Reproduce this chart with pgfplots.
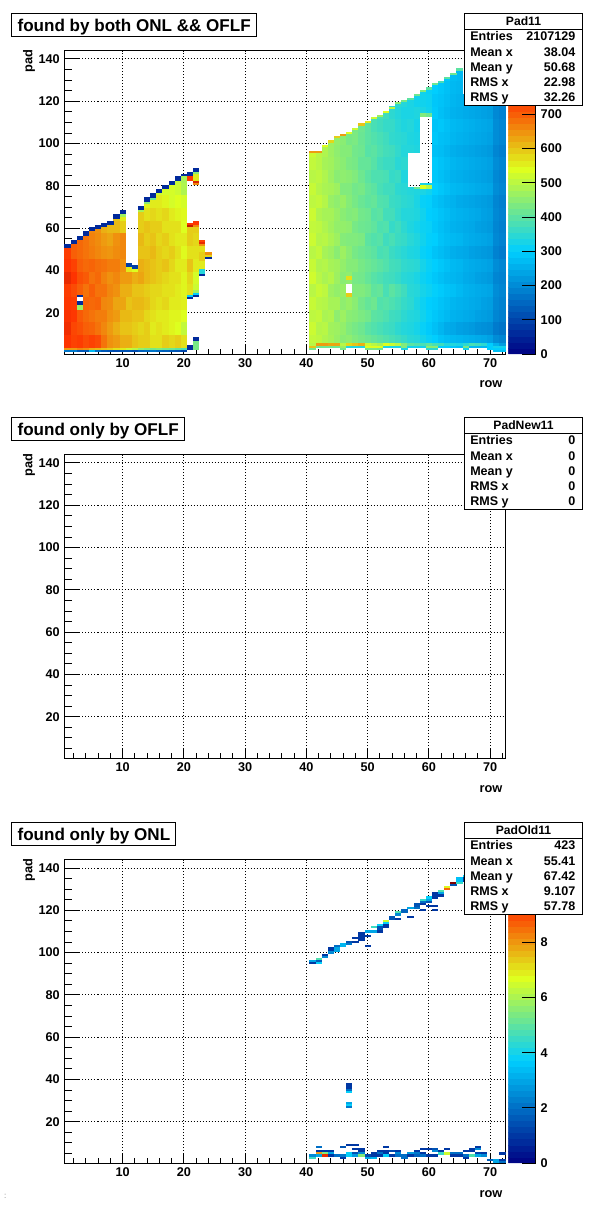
\documentclass[border=0pt]{standalone}
\usepackage{fontspec}
\setmainfont{Liberation Sans}
\usepackage{pgfplots}
\usepackage{pgfplotstable}
\pgfplotsset{compat=1.18}

% ROOT palette 1 stops
\pgfplotsset{colormap={rootpal}{rgb(0pt)=(0,0,.51); rgb(34pt)=(0,.81,1); rgb(61pt)=(.87,1,.12); rgb(84pt)=(1,.2,0); rgb(100pt)=(.51,0,0)}}

% one bin = 441/72 px wide, one pad = 303/143.5 px high (1px = 0.75pt)
\pgfdeclareplotmark{cellb}{\pgfpathrectangle{\pgfpoint{-2.35pt}{-0.79pt}}{\pgfpoint{4.7pt}{9.6pt}}\pgfusepathqfill}
\pgfdeclareplotmark{celle}{\pgfpathrectangle{\pgfpoint{-2.32pt}{-0.79pt}}{\pgfpoint{4.64pt}{\cellh*1.5836pt+0.05pt}}\pgfusepathqfill}

\newcommand\tickf{\fontsize{9.5}{11}\selectfont\bfseries}

\pgfplotsset{
  padaxis/.style={
    scale only axis, width=330.75pt, height=227.6pt, anchor=south west,
    xmin=0.5, xmax=72.5, ymin=0.5, ymax=144,
    xtick={0,10,...,80}, ytick={0,20,...,160},
    minor x tick num=4, minor y tick num=3,
    tick pos=left, tick align=inside, axis on top,
    grid=major,
    grid style={black, line width=0.75pt, dash pattern=on 0.75pt off 1.5pt},
    axis line style={black, line width=0.75pt},
    tick style={black, line width=0.75pt},
    x tick style={/pgfplots/major tick length=7.5pt, /pgfplots/minor tick length=3.75pt},
    y tick style={/pgfplots/major tick length=11.5pt, /pgfplots/minor tick length=5.75pt},
    ticklabel style={font=\tickf},
    /pgf/number format/assume math mode=true,
    colormap name=rootpal,
  },
  padbar/.style={
    colorbar, colorbar sampled,
    colorbar shift/.style={xshift=1.8pt},
    colorbar style={
      samples=51, width=20.7pt,
      axis y line*=right, axis x line=none,
      tick align=inside, major tick length=10.5pt,
      tick style={black, line width=0.75pt},
      axis line style={black, line width=0.75pt},
      ticklabel style={font=\tickf},
      /pgf/number format/assume math mode=true,
      ytick={#1},
    },
  },
  padcells/.style={only marks, scatter, mark=#1, point meta=\thisrow{v}},
}

% interior blocks, six pads high, starting half a pad below p
\pgfplotstableread{
r p v
1 4 745
1 10 760
1 16 750
1 22 740
1 28 735
1 34 770
1 40 745
2 4 730
2 10 725
2 16 740
2 22 735
2 28 720
2 34 745
2 40 730
2 46 700
3 4 735
3 10 715
3 16 705
3 28 700
3 34 715
3 40 700
3 46 690
4 4 720
4 10 700
4 16 690
4 22 695
4 28 680
4 34 705
4 40 690
4 46 680
5 4 730
5 10 695
5 16 680
5 22 690
5 28 700
5 34 680
5 40 695
5 46 670
5 52 665
6 4 720
6 10 680
6 16 670
6 22 695
6 28 680
6 34 690
6 40 685
6 46 660
6 52 655
7 4 680
7 10 660
7 16 670
7 22 660
7 28 680
7 34 665
7 40 680
7 46 650
7 52 640
8 4 650
8 10 640
8 16 650
8 22 655
8 28 660
8 34 650
8 40 670
8 46 645
8 52 630
9 4 640
9 10 620
9 16 640
9 22 630
9 28 650
9 34 660
9 40 670
9 46 655
9 52 650
9 58 610
10 4 620
10 10 600
10 16 610
10 22 630
10 28 620
10 34 640
10 40 650
10 46 660
10 52 660
10 58 590
11 4 620
11 10 600
11 16 610
11 22 600
11 28 620
11 34 640
12 4 600
12 10 590
12 16 600
12 22 610
12 28 600
12 34 620
13 4 590
13 10 580
13 16 600
13 22 610
13 28 600
13 34 630
13 40 620
13 46 600
13 52 610
13 58 590
14 4 590
14 10 590
14 16 580
14 22 600
14 28 590
14 34 610
14 40 610
14 46 600
14 52 590
14 58 600
14 64 570
15 4 570
15 10 560
15 16 570
15 22 580
15 28 580
15 34 600
15 40 600
15 46 610
15 52 600
15 58 590
15 64 580
16 4 570
16 10 570
16 16 560
16 22 570
16 28 580
16 34 590
16 40 590
16 46 590
16 52 580
16 58 590
16 64 570
16 70 560
17 4 590
17 10 560
17 16 560
17 22 580
17 28 570
17 34 580
17 40 600
17 46 580
17 52 590
17 58 570
17 64 580
17 70 550
18 4 580
18 10 550
18 16 550
18 22 560
18 28 570
18 34 570
18 40 580
18 46 590
18 52 570
18 58 570
18 64 560
18 70 530
19 4 590
19 10 540
19 16 550
19 22 560
19 28 560
19 34 570
19 40 560
19 46 570
19 52 560
19 58 570
19 64 550
19 70 540
19 76 520
20 4 570
20 10 510
20 16 540
20 22 555
20 28 550
20 34 550
20 40 560
20 46 545
20 52 560
20 58 540
20 64 545
20 70 530
20 76 490
21 28 570
21 34 580
21 40 600
21 46 570
21 52 590
22 28 520
22 34 530
22 40 560
22 46 570
22 52 580
41 4 510
41 10 520
41 16 505
41 22 515
41 28 500
41 34 525
41 40 515
41 46 500
41 52 520
41 58 510
41 64 520
41 70 505
41 76 515
41 82 500
41 88 510
42 4 505
42 10 495
42 16 510
42 22 500
42 28 515
42 34 500
42 40 490
42 46 510
42 52 495
42 58 505
42 64 490
42 70 510
42 76 495
42 82 505
42 88 500
43 4 490
43 10 500
43 16 485
43 22 495
43 28 505
43 34 485
43 40 495
43 46 480
43 52 500
43 58 490
43 64 480
43 70 495
43 76 485
43 82 490
43 88 480
43 94 490
44 4 480
44 10 475
44 16 490
44 22 480
44 28 470
44 34 495
44 40 480
44 46 470
44 52 485
44 58 475
44 64 480
44 70 465
44 76 480
44 82 470
44 88 475
44 94 470
45 4 465
45 10 470
45 16 455
45 22 480
45 28 460
45 34 470
45 40 475
45 46 450
45 52 470
45 58 460
45 64 465
45 70 455
45 76 470
45 82 450
45 88 460
45 94 455
46 4 450
46 10 460
46 16 470
46 22 455
46 28 465
46 34 450
46 40 460
46 46 470
46 52 445
46 58 460
46 64 450
46 70 465
46 76 440
46 82 455
46 88 450
46 94 445
47 4 455
47 10 440
47 16 450
47 22 465
47 34 455
47 40 445
47 46 450
47 52 440
47 58 455
47 64 440
47 70 445
47 76 440
47 82 450
47 88 435
47 94 445
47 100 430
48 4 440
48 10 430
48 16 445
48 22 450
48 28 440
48 34 430
48 40 445
48 46 430
48 52 440
48 58 430
48 64 445
48 70 430
48 76 425
48 82 440
48 88 430
48 94 425
48 100 435
49 4 430
49 10 420
49 16 435
49 22 425
49 28 440
49 34 425
49 40 430
49 46 420
49 52 435
49 58 420
49 64 425
49 70 415
49 76 430
49 82 420
49 88 410
49 94 420
49 100 415
50 4 420
50 10 400
50 16 425
50 22 410
50 28 430
50 34 410
50 40 420
50 46 410
50 52 400
50 58 415
50 64 420
50 70 405
50 76 410
50 82 400
50 88 410
50 94 395
50 100 400
51 4 410
51 10 390
51 16 400
51 22 420
51 28 405
51 34 395
51 40 410
51 46 400
51 52 390
51 58 405
51 64 395
51 70 410
51 76 400
51 82 385
51 88 395
51 94 400
51 100 390
51 106 380
52 4 400
52 10 380
52 16 395
52 22 390
52 28 410
52 34 385
52 40 400
52 46 380
52 52 395
52 58 385
52 64 400
52 70 390
52 76 380
52 82 385
52 88 375
52 94 385
52 100 380
52 106 370
53 4 390
53 10 370
53 16 385
53 22 395
53 28 380
53 34 375
53 40 390
53 46 385
53 52 370
53 58 390
53 64 375
53 70 385
53 76 370
53 82 380
53 88 365
53 94 375
53 100 370
53 106 360
54 4 380
54 10 365
54 16 370
54 22 385
54 28 400
54 34 370
54 40 375
54 46 365
54 52 380
54 58 360
54 64 375
54 70 365
54 76 370
54 82 360
54 88 365
54 94 370
54 100 355
54 106 360
54 112 350
55 4 370
55 10 350
55 16 365
55 22 375
55 28 385
55 34 360
55 40 370
55 46 355
55 52 365
55 58 370
55 64 355
55 70 360
55 76 350
55 82 365
55 88 345
55 94 355
55 100 350
55 106 345
55 112 340
56 4 360
56 10 340
56 16 350
56 22 360
56 28 370
56 34 345
56 40 355
56 46 345
56 52 360
56 58 350
56 64 340
56 70 350
56 76 345
56 82 335
56 88 350
56 94 340
56 100 345
56 106 335
56 112 330
57 4 345
57 10 335
57 16 340
57 22 350
57 28 345
57 34 340
57 40 350
57 46 335
57 52 345
57 58 335
57 64 340
57 70 345
57 100 335
57 106 340
57 112 330
58 4 340
58 10 325
58 16 335
58 22 330
58 28 340
58 34 330
58 40 345
58 46 330
58 52 335
58 58 325
58 64 335
58 70 330
58 100 330
58 106 325
58 112 335
58 118 320
59 4 325
59 10 310
59 16 320
59 22 315
59 28 325
59 34 315
59 40 325
59 46 310
59 52 320
59 58 315
59 64 320
59 70 310
59 76 330
59 118 320
60 4 310
60 10 295
60 16 305
60 22 300
60 28 315
60 34 305
60 40 310
60 46 300
60 52 305
60 58 310
60 64 300
60 70 305
60 76 320
60 118 315
61 4 300
61 10 280
61 16 290
61 22 295
61 28 305
61 34 290
61 40 300
61 46 285
61 52 300
61 58 290
61 64 295
61 70 285
61 76 300
61 82 290
61 88 295
61 94 280
61 100 290
61 106 285
61 112 295
61 118 290
62 4 285
62 10 265
62 16 280
62 22 285
62 28 295
62 34 280
62 40 290
62 46 275
62 52 285
62 58 280
62 64 285
62 70 275
62 76 290
62 82 280
62 88 285
62 94 275
62 100 280
62 106 290
62 112 280
62 118 285
62 124 290
63 4 275
63 10 250
63 16 270
63 22 275
63 28 285
63 34 270
63 40 280
63 46 265
63 52 275
63 58 270
63 64 275
63 70 265
63 76 280
63 82 270
63 88 275
63 94 265
63 100 275
63 106 280
63 112 270
63 118 275
63 124 280
64 4 270
64 10 245
64 16 260
64 22 265
64 28 280
64 34 265
64 40 270
64 46 255
64 52 270
64 58 260
64 64 265
64 70 260
64 76 270
64 82 260
64 88 265
64 94 255
64 100 265
64 106 270
64 112 260
64 118 265
64 124 270
65 4 265
65 10 235
65 16 255
65 22 260
65 28 270
65 34 260
65 40 265
65 46 250
65 52 265
65 58 255
65 64 260
65 70 250
65 76 265
65 82 255
65 88 260
65 94 250
65 100 260
65 106 265
65 112 255
65 118 260
65 124 265
65 130 270
66 4 260
66 10 230
66 16 250
66 22 255
66 28 260
66 34 250
66 40 255
66 46 245
66 52 255
66 58 250
66 64 255
66 70 245
66 76 260
66 82 250
66 88 255
66 94 245
66 100 255
66 106 260
66 112 250
66 118 255
67 4 255
67 10 225
67 16 245
67 22 250
67 28 255
67 34 245
67 40 250
67 46 235
67 52 250
67 58 245
67 64 250
67 70 240
67 76 255
67 82 245
67 88 250
67 94 240
67 100 250
67 106 255
67 112 245
67 118 250
68 4 250
68 10 215
68 16 235
68 22 245
68 28 250
68 34 235
68 40 245
68 46 230
68 52 245
68 58 235
68 64 245
68 70 235
68 76 250
68 82 240
68 88 245
68 94 235
68 100 245
68 106 250
68 112 240
68 118 245
69 4 245
69 10 210
69 16 230
69 22 235
69 28 245
69 34 230
69 40 240
69 46 225
69 52 240
69 58 230
69 64 235
69 70 230
69 76 245
69 82 235
69 88 240
69 94 230
69 100 240
69 106 245
69 112 235
69 118 240
70 4 235
70 10 205
70 16 225
70 22 230
70 28 240
70 34 225
70 40 235
70 46 220
70 52 235
70 58 225
70 64 230
70 70 225
70 76 240
70 82 230
70 88 235
70 94 225
70 100 235
70 106 240
70 112 230
70 118 235
71 4 205
71 10 180
71 16 195
71 22 200
71 28 205
71 34 195
71 40 205
71 46 190
71 52 200
71 58 195
71 64 200
71 70 195
71 76 205
71 82 200
71 88 205
71 94 195
71 100 205
71 106 205
71 112 200
71 118 205
72 4 195
72 10 170
72 16 185
72 22 190
72 28 195
72 34 190
72 40 195
72 46 180
72 52 190
72 58 185
72 64 190
72 70 185
72 76 195
72 82 190
72 88 195
72 94 185
72 100 195
72 106 195
72 112 190
72 118 195
}\padblocks

% irregular cells: tops, edges, holes and the low-pad strip, h pads high
\pgfplotstableread{
r p h v
1 46 5 735
1 51 2 60
2 52 1 700
2 53 2 60
3 52 3 690
3 55 2 60
4 52 5 680
4 57 2 60
5 58 1 660
5 59 2 60
6 58 2 650
6 60 2 60
7 58 3 620
7 61 2 60
8 58 4 610
8 62 2 60
9 64 1 600
9 65 2 60
10 64 2 560
10 66 1 470
10 67 2 60
11 40 2 560
11 42 2 90
12 40 1 540
12 41 2 90
13 64 4 590
13 68 1 480
13 69 2 60
14 70 2 550
14 72 1 450
14 73 2 60
15 70 4 560
15 74 1 420
15 75 2 60
16 76 1 520
16 77 2 60
17 76 3 530
17 79 2 60
18 76 5 530
18 81 2 60
19 82 1 510
19 83 2 60
20 82 3 480
20 85 1 60
3 22 2 470
3 24 2 60
3 28 1 60
21 27 1 60
21 28 1 300
21 58 3 590
21 61 1 810
21 62 1 740
21 83 2 740
21 85 2 60
21 3 2 60
22 28 1 60
22 29 1 300
22 30 1 470
22 58 3 590
22 61 1 660
22 62 2 740
22 81 1 660
22 82 1 790
22 83 3 560
22 86 1 450
22 87 2 60
22 3 4 430
22 7 2 60
23 38 1 60
23 39 2 340
23 41 4 560
23 45 4 590
23 49 3 570
23 52 1 650
23 53 1 770
23 54 1 730
24 46 1 60
24 47 1 580
24 48 1 650
1 2 1 170
2 2 1 180
3 2 1 130
4 2 1 130
5 2 1 270
6 2 1 160
7 2 1 130
8 2 1 120
9 2 1 110
10 2 1 120
11 2 1 120
12 2 1 110
13 2 1 140
14 2 1 150
15 2 1 170
16 2 1 150
17 2 1 140
18 2 1 130
19 2 1 120
20 2 1 100
1 3 1 640
2 3 1 640
3 3 1 660
4 3 1 650
5 3 1 620
6 3 1 610
7 3 1 600
8 3 1 590
9 3 1 570
10 3 1 560
11 3 1 520
12 3 1 500
13 3 1 460
14 3 1 440
15 3 1 430
16 3 1 440
17 3 1 430
18 3 1 420
19 3 1 400
20 3 1 380
41 94 2 520
41 96 1 640
42 94 2 500
42 96 1 640
43 99 1 540
44 100 1 470
44 101 1 580
45 100 3 460
45 103 1 590
46 100 4 450
46 104 1 640
47 105 1 540
48 106 1 430
48 107 1 520
49 106 3 420
49 109 1 600
50 106 4 400
50 110 1 560
51 112 1 520
52 112 1 380
52 113 1 470
53 112 3 370
53 115 1 540
54 117 1 500
55 118 1 350
55 119 1 450
56 118 2 340
56 120 1 430
57 118 3 330
57 121 1 400
58 123 1 420
59 124 1 320
59 125 1 440
60 124 2 310
60 126 1 400
61 124 4 300
61 128 1 420
62 129 1 380
63 130 1 290
63 131 1 400
64 130 3 275
64 133 1 420
65 135 1 400
47 28 2 590
47 36 2 570
57 76 4 340
57 96 4 340
58 76 3 335
58 79 1 420
58 96 4 335
59 79 2 540
59 113 5 330
59 113 2 440
60 79 2 500
60 113 5 320
60 113 2 420
41 3 1 430
46 3 1 430
50 3 1 430
51 3 1 430
52 3 1 420
56 3 1 330
60 3 1 350
61 3 1 350
66 3 1 320
70 3 1 300
71 3 1 300
72 3 1 300
71 2 1 280
72 2 1 280
41 4 1 600
42 4 1 420
43 4 1 420
44 4 1 420
45 4 1 420
46 4 1 470
47 4 1 340
48 4 1 340
49 4 1 340
50 4 1 540
51 4 1 540
52 4 1 540
53 4 1 330
54 4 1 330
55 4 1 330
56 4 1 440
57 4 1 320
58 4 1 320
59 4 1 320
60 4 1 450
61 4 1 450
62 4 1 300
63 4 1 300
64 4 1 290
65 4 1 280
66 4 1 430
67 4 1 270
68 4 1 270
69 4 1 270
70 4 1 300
71 4 1 320
72 4 1 320
41 5 1 500
42 5 1 640
43 5 1 640
44 5 1 630
45 5 1 630
46 5 1 500
47 5 1 580
48 5 1 600
49 5 1 620
50 5 1 520
51 5 1 500
52 5 1 480
53 5 1 540
54 5 1 520
55 5 1 500
56 5 1 440
57 5 1 400
58 5 1 390
59 5 1 380
60 5 1 400
61 5 1 380
62 5 1 370
63 5 1 340
64 5 1 340
65 5 1 330
66 5 1 350
67 5 1 380
68 5 1 370
69 5 1 350
70 5 1 300
71 5 1 260
72 5 1 230
}\padedges

% third panel, found only by ONL
\pgfplotstableread{
r p h v
41 96 1 3
41 95 1 1
42 97 1 4.8
42 96 1 1.7
42 95 1 3.8
43 99 1 1
43 98 1 2.5
44 101 2 1
44 100 1 2.5
45 103 1 2
45 101 2 3
46 103 2 3.3
47 105 1 1.5
47 104 1 2.2
48 107 1 1
48 105 1 1
49 106 4 1
50 110 1 3
50 108 1 1
50 103 1 1
51 112 1 4.5
51 110 1 3
52 113 1 3.8
52 111 2 1.5
52 110 1 1
53 115 1 6.5
53 114 1 3.8
53 112 2 1
54 116 2 1.5
55 119 1 4.8
55 118 1 2.5
55 116 1 1
56 119 2 1.8
57 121 1 3
57 117 1 1
58 122 2 1.5
58 121 1 2
59 125 1 4.5
59 124 1 2
59 123 1 1
59 120 1 1
60 126 1 3.8
60 125 1 3
60 124 1 1.5
60 122 1 1
61 126 3 1
61 122 1 1
61 120 1 1
62 129 1 4.8
62 128 1 3
62 127 1 1
63 131 1 6.8
63 130 1 8.6
64 133 1 11
64 132 1 1.5
65 134 2 3.5
65 133 1 4.5
66 136 1 3.8
66 134 2 1
47 36 3 1
47 35 1 2
47 34 1 3.8
47 29 1 3
47 28 1 3.8
47 27 1 2.2
41 3 1 4.5
41 4 1 2.5
42 8 1 2
42 6 1 1
42 5 1 8
42 4 1 3
43 6 1 1
43 5 1 5.5
43 4 1 9.5
44 6 1 1
44 5 1 3
44 4 1 1
45 4 1 2
46 8 1 1.5
46 4 1 2.2
46 3 1 1
47 9 1 1
47 5 1 3.8
47 4 1 3.8
48 9 1 1
48 7 1 1
48 5 1 1.5
48 4 1 2.8
49 7 1 1
49 6 1 1
49 5 1 2.5
49 4 1 5.5
50 4 1 1.3
50 3 1 3
51 5 1 1
51 4 1 1
51 3 1 3.3
52 6 1 1
52 5 1 2
52 4 1 1
53 8 1 1
53 6 1 1
53 5 1 1
53 4 1 3.8
54 6 1 1.3
54 4 1 1
55 6 1 1
55 5 1 2.5
55 4 1 2
56 4 1 2
56 3 1 2
57 5 1 2.8
57 4 1 1
58 6 1 1
58 5 1 2.2
58 4 1 1.8
59 7 1 1
59 5 1 1
59 4 1 2
60 7 1 1
60 4 1 1
61 7 1 1.5
61 6 1 2.5
61 4 1 1
62 6 1 1
62 5 1 4.5
63 7 1 1
63 5 1 6.5
64 5 1 2
64 4 1 1
65 5 1 2
65 4 1 1
66 6 1 1
66 4 1 2
66 3 1 1
67 7 1 1
67 6 1 1
67 4 1 4.8
68 8 1 1
68 7 1 2.5
68 5 1 1.2
68 4 1 3
69 5 1 1
69 4 1 2.5
70 2 1 1.7
71 2 1 3
71 1 1 3
72 5 1 1
72 2 1 1
72 1 1 2
}\padold

% title box and statistics box, y0 = top of the panel's boxes
\newcommand\titlebox[3]{%
  \filldraw[fill=white, draw=black, line width=0.75pt] (11.5,#1) rectangle (#2,#1+23);
  \node[anchor=base west, inner sep=0pt] at (17.3,#1+18) {\fontsize{12.8}{15}\selectfont\bfseries #3};}
\newcommand\statline[3]{%
  \node[anchor=base west, inner sep=0pt] at (470,#1) {\fontsize{9.4}{11}\selectfont\bfseries #2};
  \node[anchor=base east, inner sep=0pt] at (575.5,#1) {\fontsize{9.4}{11}\selectfont\bfseries #3};}
\newcommand\statbox[7]{%
  \filldraw[fill=white, draw=black, line width=0.75pt] (464.5,#1) rectangle (582.5,#1+92);
  \draw[black, line width=0.75pt] (464.5,#1+16) -- (582.5,#1+16);
  \node[inner sep=0pt, anchor=base] at (523.5,#1+11.5) {\fontsize{9.1}{11}\selectfont\bfseries #2};
  \statline{#1+26.5}{Entries}{#3}
  \statline{#1+42.5}{Mean x}{#4}
  \statline{#1+57.5}{Mean y}{#5}
  \statline{#1+72.5}{RMS x}{#6}
  \statline{#1+87.5}{RMS y}{#7}}
\newcommand\axlabels[2]{%
  \node[anchor=center, inner sep=0pt] at (491,#1) {\fontsize{9.6}{11}\selectfont\bfseries row};
  \node[anchor=center, inner sep=0pt, rotate=90] at (29,#2) {\fontsize{9.6}{11}\selectfont\bfseries pad};}

\begin{document}
\begin{tikzpicture}[x=0.75pt, y=-0.75pt]
\path[use as bounding box] (0,0) rectangle (600,1214);

\begin{axis}[padaxis, padbar={0,100,...,700}, at={(48.375pt,-265.5pt)},
    point meta min=0, point meta max=886]
  \addplot[padcells=cellb] table[x=r, y=p] {\padblocks};
  \addplot[padcells=celle, visualization depends on={\thisrow{h}\as\cellh}]
    table[x=r, y=p] {\padedges};
\end{axis}

\begin{axis}[padaxis, at={(48.375pt,-568.5pt)}]
\end{axis}

\begin{axis}[padaxis, padbar={0,2,...,8}, at={(48.375pt,-872.25pt)},
    point meta min=0, point meta max=11]
  \addplot[padcells=celle, visualization depends on={\thisrow{h}\as\cellh}]
    table[x=r, y=p] {\padold};
\end{axis}

\titlebox{13.5}{256.5}{found by both ONL \&\& OFLF}
\titlebox{417.5}{184.5}{found only by OFLF}
\titlebox{822.5}{175.5}{found only by ONL}

\statbox{13.5}{Pad11}{2107129}{38.04}{50.68}{22.98}{32.26}
\statbox{417.5}{PadNew11}{0}{0}{0}{0}{0}
\statbox{822.5}{PadOld11}{423}{55.41}{67.42}{9.107}{57.78}

\axlabels{384}{61}
\axlabels{789}{465}
\axlabels{1194}{870}

\node[anchor=center, inner sep=0pt, text=gray] at (5.3,1196) {\fontsize{6}{7}\selectfont :};
\end{tikzpicture}
\end{document}
